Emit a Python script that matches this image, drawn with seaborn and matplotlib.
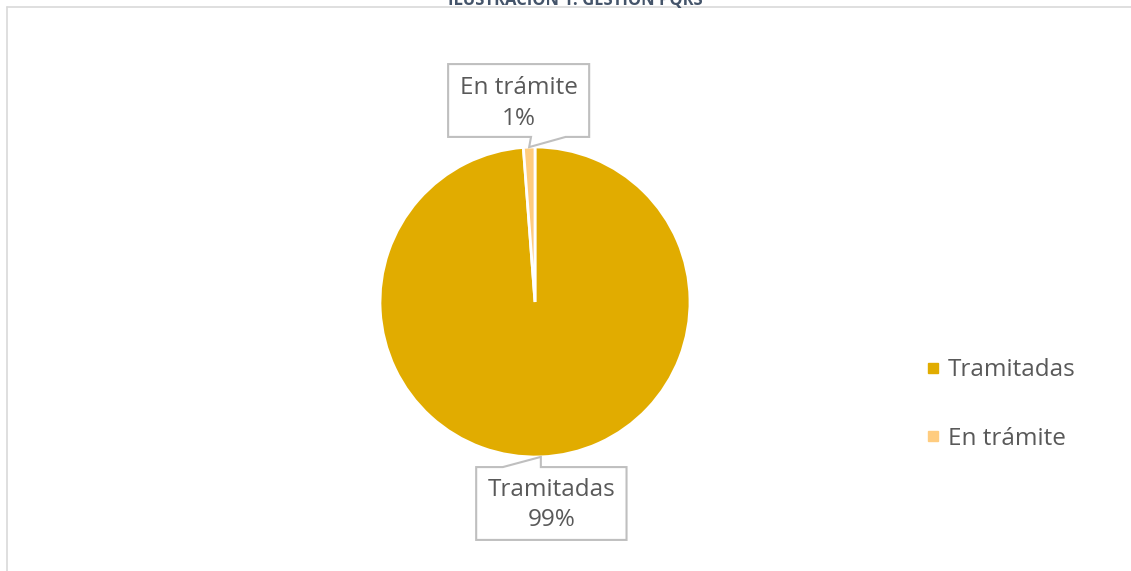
import numpy as np
import matplotlib
matplotlib.use("Agg")
import matplotlib.pyplot as plt
from matplotlib.patches import Polygon
from matplotlib.lines import Line2D
import seaborn as sns

# ---- data ----
categories = ["Tramitadas", "En trámite"]
values = [98.8, 1.2]
pct_labels = ["99%", "1%"]
title = "ILUSTRACIÓN 1. GESTIÓN PQRS"

sns.set_theme(style="white")
plt.rcParams["font.family"] = ["Open Sans", "DejaVu Sans"]
colors = sns.color_palette(["#E1AC00", "#FFCC7F"])

W, H, DPI = 1131, 571, 100
fig = plt.figure(figsize=(W / DPI, H / DPI), dpi=DPI)
ax = fig.add_axes([0, 0, 1, 1])

# pie geometry in pixels
cx_px, cy_px, r_px = 535, 302, 155

wedges, _ = ax.pie(values, colors=colors, startangle=90, counterclock=False,
                   radius=1.0, wedgeprops=dict(edgecolor="white", linewidth=2.0))
ax.set_aspect("auto")
ax.set_xlim(-cx_px / r_px, (W - cx_px) / r_px)
ax.set_ylim(-(H - cy_px) / r_px, cy_px / r_px)
ax.axis("off")

text_color = "#595959"
edge_color = "#BFBFBF"

# callout label layout (style)
box_w = [0.97, 0.91]
box_h = 0.47
box_dist = 1.30
for i, w in enumerate(wedges):
    mid = np.deg2rad((w.theta1 + w.theta2) / 2)
    tx, ty = np.cos(mid), np.sin(mid)
    above = ty > 0
    sgn = 1 if above else -1
    bcx = tx * 2.8
    bcy = sgn * box_dist
    bw = box_w[i]
    x0, x1 = bcx - bw / 2, bcx + bw / 2
    y0, y1 = bcy - box_h / 2, bcy + box_h / 2
    if above:
        b1, b2 = tx + 0.012, tx + 0.235
        pts = [(x0, y0), (b1, y0), (tx, ty), (b2, y0), (x1, y0), (x1, y1), (x0, y1)]
        dy = -0.02
    else:
        b1, b2 = tx - 0.245, tx - 0.0
        pts = [(x0, y1), (b1, y1), (tx + 0.0, ty), (b2, y1), (x1, y1), (x1, y0), (x0, y0)]
        dy = -0.01
    poly = Polygon(pts, closed=True, facecolor="white", edgecolor=edge_color,
                   linewidth=1.5, zorder=5)
    ax.add_patch(poly)
    ax.text(bcx, bcy + dy, f"{categories[i]}\n{pct_labels[i]}", ha="center", va="center",
            fontsize=17.5, color=text_color, linespacing=1.38, zorder=6)

# legend
handles = [Line2D([], [], marker="s", linestyle="none", markersize=6.5,
                  markerfacecolor=c, markeredgecolor=c) for c in colors]
fig.legend(handles, categories, loc="center left",
           bbox_to_anchor=(914 / W, 1 - 404.5 / H), bbox_transform=fig.transFigure,
           frameon=False, fontsize=17.5, labelspacing=1.85, handlelength=0.6,
           handletextpad=0.3, borderpad=0, labelcolor=text_color)

# chart frame and clipped title
fig.add_artist(Line2D([7 / W, 1], [1 - 7 / H, 1 - 7 / H], color="#D9D9D9", lw=1.2,
                      transform=fig.transFigure))
fig.add_artist(Line2D([7 / W, 7 / W], [0, 1 - 7 / H], color="#D9D9D9", lw=1.2,
                      transform=fig.transFigure))
fig.text(575 / W, 1 - 4.5 / H, title, ha="center", va="baseline", fontsize=12,
         fontweight="bold", color="#44546A")

fig.savefig("out.png", dpi=DPI, facecolor="white")
